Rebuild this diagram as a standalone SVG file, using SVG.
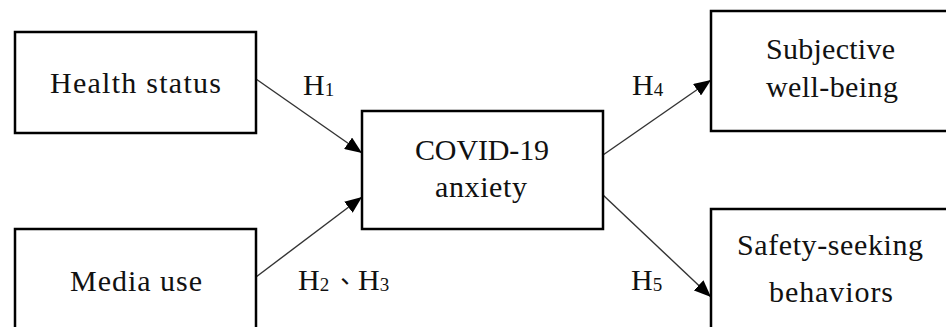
<svg xmlns="http://www.w3.org/2000/svg" width="946" height="327" viewBox="0 0 946 327">
<style>
.box{fill:#fff;stroke:#000;stroke-width:2.5}
.lbl{font-family:"Liberation Serif","Noto Sans CJK TC",serif;font-size:30px;fill:#111;text-anchor:middle}
.h{font-family:"Liberation Serif","Noto Sans CJK TC",serif;font-size:30px;fill:#111}
.sub{font-size:19px}
.conn{stroke:#333;stroke-width:1.4;fill:none;marker-end:url(#arr)}
</style>
<defs>
<marker id="arr" markerUnits="userSpaceOnUse" markerWidth="18" markerHeight="14" refX="17" refY="7" orient="auto">
<path d="M0,0 L17,7 L0,14 Z" fill="#000"/>
</marker>
</defs>
<rect width="946" height="327" fill="#fff"/>
<g id="connectors">
<line class="conn" x1="256" y1="79" x2="362" y2="153"/>
<line class="conn" x1="256" y1="277" x2="362" y2="197"/>
<line class="conn" x1="603" y1="155" x2="711" y2="80"/>
<line class="conn" x1="603" y1="195" x2="711" y2="297"/>
</g>
<g id="health">
<rect class="box" x="15" y="32" width="241" height="101"/>
<text class="lbl" x="135.5" y="93" textLength="171" lengthAdjust="spacing">Health status</text>
</g>
<g id="media">
<rect class="box" x="15" y="229" width="241" height="130"/>
<text class="lbl" x="136" y="291" textLength="132" lengthAdjust="spacing">Media use</text>
</g>
<g id="covid">
<rect class="box" x="362" y="111" width="241" height="118"/>
<text class="lbl" x="482" y="160" textLength="134" lengthAdjust="spacing">COVID-19</text>
<text class="lbl" x="481" y="197" textLength="92" lengthAdjust="spacing">anxiety</text>
</g>
<g id="subjective">
<rect class="box" x="711" y="11" width="245" height="120"/>
<text class="lbl" x="830.5" y="59" textLength="129" lengthAdjust="spacing">Subjective</text>
<text class="lbl" x="832" y="97" textLength="132" lengthAdjust="spacing">well-being</text>
</g>
<g id="safety">
<rect class="box" x="711" y="209" width="245" height="130"/>
<text class="lbl" x="830" y="255" textLength="186" lengthAdjust="spacing">Safety-seeking</text>
<text class="lbl" x="831" y="302" textLength="124" lengthAdjust="spacing">behaviors</text>
</g>
<g id="labels">
<text class="h" x="303" y="95">H<tspan class="sub" dy="1">1</tspan></text>
<text class="h" x="298" y="290">H<tspan class="sub" dy="1">2</tspan></text>
<text class="h" x="333" y="290" style="font-size:24px">、</text>
<text class="h" x="358" y="290">H<tspan class="sub" dy="1">3</tspan></text>
<text class="h" x="632" y="95">H<tspan class="sub" dy="1">4</tspan></text>
<text class="h" x="631" y="290">H<tspan class="sub" dy="1">5</tspan></text>
</g>
</svg>
